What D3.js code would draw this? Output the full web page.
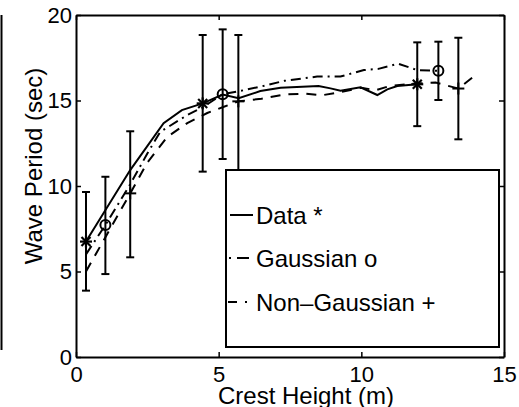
<!DOCTYPE html>
<html><head><meta charset="utf-8">
<script src="https://cdn.jsdelivr.net/npm/d3@7"></script>
<style>
html,body{margin:0;padding:0;background:#fff;}
svg{display:block;}
text{font-family:"Liberation Sans",Arial,Helvetica,sans-serif;fill:#000;}
</style></head>
<body>
<svg id="c" width="519" height="407"></svg>
<script>
// ---- data ----
const dataX = [0.35, 1.9, 3.07, 3.71, 4.44, 5.14, 5.7, 6.46, 7.17, 8.5, 8.92, 9.27, 9.97, 10.56, 10.91, 11.26, 11.96];
const dataY = [6.75, 10.93, 13.67, 14.44, 14.83, 15.35, 15.13, 15.55, 15.75, 15.85, 15.71, 15.57, 15.77, 15.32, 15.65, 15.85, 15.95];
const gaussX = [0.35, 1.03, 1.9, 2.5, 2.95, 3.9, 4.44, 5.14, 5.88, 6.7, 7.3, 8.45, 9.27, 10.09, 10.6, 11.3, 11.96, 12.7];
const gaussY = [6.0, 7.72, 10.1, 11.9, 13.16, 14.15, 14.6, 15.37, 15.6, 15.9, 16.15, 16.4, 16.4, 16.78, 16.85, 17.15, 16.78, 16.74];
const nonGaussX = [0.35, 1.9, 2.49, 3.2, 3.9, 4.6, 5.16, 5.69, 6.5, 7.3, 8.0, 8.6, 9.3, 10.0, 10.5, 11.0, 11.96, 12.6, 13.4, 13.9];
const nonGaussY = [5.0, 9.57, 11.35, 12.87, 13.68, 14.27, 14.62, 14.95, 15.1, 15.35, 15.4, 15.3, 15.5, 15.75, 15.6, 15.85, 16.0, 16.05, 15.7, 16.35];
const dataMarkX = [0.35, 4.44, 11.96];
const dataMarkY = [6.75, 14.83, 15.95];
const gaussMarkX = [1.03, 5.14, 12.7];
const gaussMarkY = [7.72, 15.37, 16.74];
const nonGaussMarkX = [1.9, 5.69, 13.4];
const nonGaussMarkY = [9.57, 14.95, 15.7];
const errX  = [0.35, 1.03, 1.9, 4.44, 5.14, 5.69, 11.96, 12.7, 13.4];
const errLo = [3.88, 4.85, 5.83, 10.84, 11.58, 10.78, 13.5, 15.03, 12.73];
const errHi = [9.65, 10.54, 13.2, 18.83, 19.16, 18.83, 18.4, 18.44, 18.67];
const xTicks = [0, 5, 10, 15];
const yTicks = [0, 5, 10, 15, 20];
const legendLabels = ["Data *", "Gaussian o", "Non\u2013Gaussian +"];

// ---- layout ----
const svg = d3.select("#c");
const L = 76, R = 504, T = 15, B = 357;
const x = d3.scaleLinear().domain([0, 15]).range([L, R]);
const y = d3.scaleLinear().domain([0, 20]).range([B, T]);

// scan edge artifact
svg.append("line").attr("x1", 1.5).attr("x2", 1.5).attr("y1", 15).attr("y2", 350)
  .attr("stroke", "#000").attr("stroke-width", 2);

const fs = 22;
// axes
const gB = svg.append("g").attr("transform", `translate(0,${B})`)
  .call(d3.axisBottom(x).tickValues(xTicks).tickFormat(d3.format("d")).tickSizeInner(-5).tickSizeOuter(0).tickPadding(9));
const gL = svg.append("g").attr("transform", `translate(${L},0)`)
  .call(d3.axisLeft(y).tickValues(yTicks).tickFormat(d3.format("d")).tickSizeInner(-5).tickSizeOuter(0).tickPadding(4));
const gT = svg.append("g").attr("transform", `translate(0,${T})`)
  .call(d3.axisTop(x).tickValues(xTicks).tickFormat("").tickSizeInner(-5).tickSizeOuter(0));
const gR = svg.append("g").attr("transform", `translate(${R},0)`)
  .call(d3.axisRight(y).tickValues(yTicks).tickFormat("").tickSizeInner(-5).tickSizeOuter(0));
[gB, gL, gT, gR].forEach(g => {
  g.selectAll("path").attr("stroke", "#000").attr("stroke-width", 2);
  g.selectAll("line").attr("stroke", "#000").attr("stroke-width", 1.5);
  g.selectAll("text").attr("font-size", fs).attr("font-family", '"Liberation Sans",Arial,sans-serif').attr("fill", "#000");
});

// axis labels
svg.append("text").attr("x", 306).attr("y", 395).attr("dy", "0.36em")
  .attr("text-anchor", "middle").attr("font-size", 24).text("Crest Height (m)");
svg.append("text").attr("transform", "translate(33,166) rotate(-90)").attr("dy", "0.36em")
  .attr("text-anchor", "middle").attr("font-size", 24).text("Wave Period (sec)");

// lines
const line = d3.line().x(d => x(d[0])).y(d => y(d[1]));
const series = [
  {xs: dataX, ys: dataY, dash: null},
  {xs: gaussX, ys: gaussY, dash: "10,5,2,5"},
  {xs: nonGaussX, ys: nonGaussY, dash: "10,8"}
];
series.forEach(s => {
  svg.append("path").datum(s.xs.map((v, i) => [v, s.ys[i]]))
    .attr("d", line).attr("fill", "none").attr("stroke", "#000")
    .attr("stroke-width", 2).attr("stroke-dasharray", s.dash);
});

// error bars
const cap = 4;
errX.forEach((v, i) => {
  const g = svg.append("g").attr("stroke", "#000").attr("stroke-width", 2);
  g.append("line").attr("x1", x(v)).attr("x2", x(v)).attr("y1", y(errLo[i])).attr("y2", y(errHi[i]));
  g.append("line").attr("x1", x(v) - cap).attr("x2", x(v) + cap).attr("y1", y(errLo[i])).attr("y2", y(errLo[i]));
  g.append("line").attr("x1", x(v) - cap).attr("x2", x(v) + cap).attr("y1", y(errHi[i])).attr("y2", y(errHi[i]));
});

// markers
dataMarkX.forEach((v, i) => {
  const cx = x(v), cy = y(dataMarkY[i]), s = 6;
  const g = svg.append("g").attr("stroke", "#000").attr("stroke-width", 2.2);
  g.append("line").attr("x1", cx - s).attr("x2", cx + s).attr("y1", cy).attr("y2", cy);
  g.append("line").attr("x1", cx).attr("x2", cx).attr("y1", cy - s).attr("y2", cy + s);
  g.append("line").attr("x1", cx - s * 0.75).attr("x2", cx + s * 0.75).attr("y1", cy - s * 0.75).attr("y2", cy + s * 0.75);
  g.append("line").attr("x1", cx - s * 0.75).attr("x2", cx + s * 0.75).attr("y1", cy + s * 0.75).attr("y2", cy - s * 0.75);
});
gaussMarkX.forEach((v, i) => {
  svg.append("circle").attr("cx", x(v)).attr("cy", y(gaussMarkY[i])).attr("r", 5)
    .attr("fill", "none").attr("stroke", "#000").attr("stroke-width", 2);
});
nonGaussMarkX.forEach((v, i) => {
  const cx = x(v), cy = y(nonGaussMarkY[i]), s = 6;
  const g = svg.append("g").attr("stroke", "#000").attr("stroke-width", 2);
  g.append("line").attr("x1", cx - s).attr("x2", cx + s).attr("y1", cy).attr("y2", cy);
  g.append("line").attr("x1", cx).attr("x2", cx).attr("y1", cy - s).attr("y2", cy + s);
});

// legend
svg.append("rect").attr("x", 226).attr("y", 170).attr("width", 273).attr("height", 177)
  .attr("fill", "#fff").attr("stroke", "#000").attr("stroke-width", 2);
const rowsY = [215, 258, 302];
// sample lines (truncated patterns as they appear)
svg.append("line").attr("x1", 230).attr("x2", 253).attr("y1", rowsY[0]).attr("y2", rowsY[0])
  .attr("stroke", "#000").attr("stroke-width", 2);
svg.append("line").attr("x1", 229).attr("x2", 249).attr("y1", rowsY[1]).attr("y2", rowsY[1])
  .attr("stroke", "#000").attr("stroke-width", 2).attr("stroke-dasharray", "2,6,12");
svg.append("line").attr("x1", 228).attr("x2", 247).attr("y1", rowsY[2]).attr("y2", rowsY[2])
  .attr("stroke", "#000").attr("stroke-width", 2).attr("stroke-dasharray", "9,8,2");
legendLabels.forEach((t, i) => {
  svg.append("text").attr("x", 256).attr("y", rowsY[i]).attr("dy", "0.36em")
    .attr("font-size", 24).text(t);
});
</script>
</body></html>
